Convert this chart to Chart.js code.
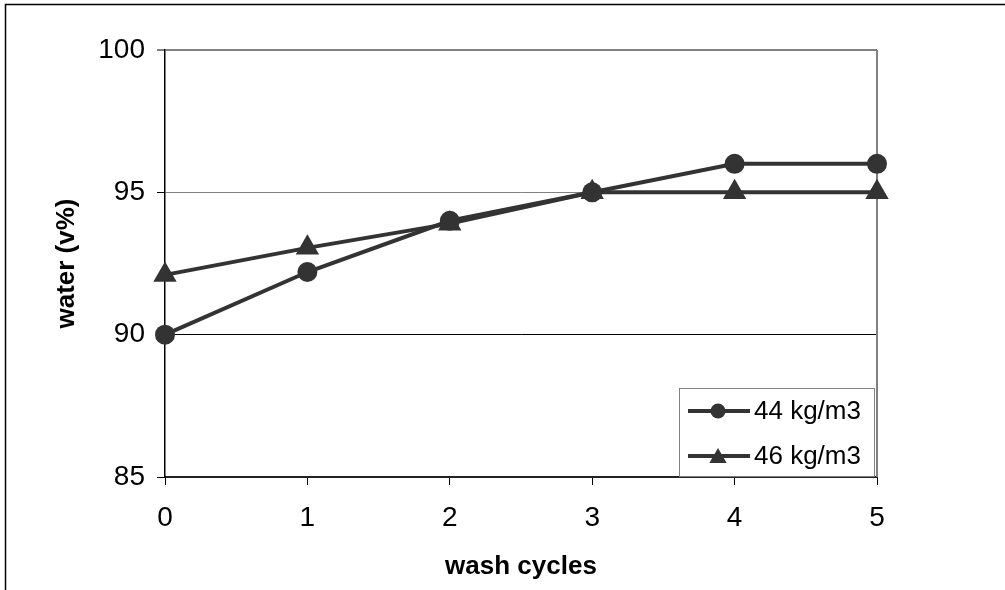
<!DOCTYPE html>
<html>
<head>
<meta charset="utf-8">
<script src="https://cdn.jsdelivr.net/npm/chart.js@4"></script>
<style>
  html, body { margin: 0; padding: 0; background: #fff; }
  #wrap { width: 1005px; height: 590px; position: relative; }
</style>
</head>
<body>
<div id="wrap"><canvas id="c" width="1005" height="590"></canvas></div>
<script>
const cycles = [0, 1, 2, 3, 4, 5];
const series44 = [90, 92.2, 94, 95, 96, 96];
const series46 = [92.1, 93.05, 93.9, 95, 95, 95];
const seriesNames = ['44 kg/m3', '46 kg/m3'];
const yTicks = [85, 90, 95, 100];

const FONT = "'Liberation Sans', Arial, sans-serif";
const INK = '#333333';

const framePlugin = {
  id: 'frame',
  beforeDraw(chart) {
    const ctx = chart.ctx;
    ctx.save();
    ctx.fillStyle = '#fff';
    ctx.fillRect(0, 0, chart.width, chart.height);
    ctx.strokeStyle = '#000';
    ctx.lineWidth = 1.5;
    ctx.beginPath();
    ctx.moveTo(1005, 4.5);
    ctx.lineTo(5.5, 4.5);
    ctx.lineTo(5.5, 590);
    ctx.stroke();
    ctx.restore();
  },
  beforeDatasetsDraw(chart) {
    const ctx = chart.ctx;
    const a = chart.chartArea;
    ctx.save();
    ctx.strokeStyle = '#808080';
    ctx.lineWidth = 2;
    ctx.beginPath();
    ctx.moveTo(a.right, a.top);
    ctx.lineTo(a.right, a.bottom);
    ctx.stroke();
    ctx.restore();
  },
  afterDatasetsDraw(chart) {
    const ctx = chart.ctx;
    ctx.save();
    const bx = 679, by = 388, bw = 195, bh = 88;
    ctx.fillStyle = '#fff';
    ctx.fillRect(bx, by, bw, bh);
    ctx.strokeStyle = '#808080';
    ctx.lineWidth = 1;
    ctx.strokeRect(bx + 0.5, by + 0.5, bw, bh);
    chart.data.datasets.forEach((ds, i) => {
      const y = 411 + i * 45;
      ctx.strokeStyle = INK;
      ctx.lineWidth = 4;
      ctx.beginPath();
      ctx.moveTo(688, y);
      ctx.lineTo(750, y);
      ctx.stroke();
      ctx.fillStyle = INK;
      Chart.helpers.drawPoint(ctx, {
        pointStyle: ds.pointStyle,
        radius: ds.pointStyle === 'triangle' ? 10 : 7.5,
        rotation: 0,
        borderWidth: 0
      }, 718, ds.pointStyle === 'triangle' ? y + 2 : y);
      ctx.fillStyle = '#000';
      ctx.font = '26px ' + FONT;
      ctx.textBaseline = 'middle';
      ctx.textAlign = 'left';
      ctx.fillText(ds.label, 754, y + 1);
    });
    ctx.restore();
  }
};

const toXY = (arr) => arr.map((v, i) => ({ x: cycles[i], y: v }));

new Chart(document.getElementById('c'), {
  type: 'line',
  data: {
    datasets: [
      {
        label: seriesNames[0],
        data: toXY(series44),
        borderColor: INK,
        backgroundColor: INK,
        borderWidth: 4,
        pointStyle: 'circle',
        pointRadius: 10,
        pointBorderWidth: 0,
        pointBackgroundColor: INK,
        tension: 0,
        clip: false
      },
      {
        label: seriesNames[1],
        data: toXY(series46),
        borderColor: INK,
        backgroundColor: INK,
        borderWidth: 4,
        pointStyle: 'triangle',
        pointRadius: 13.5,
        pointBorderWidth: 0,
        pointBackgroundColor: INK,
        tension: 0,
        clip: false
      }
    ]
  },
  options: {
    responsive: false,
    animation: false,
    events: [],
    layout: { padding: { left: 0, top: 50, right: 128, bottom: 0 } },
    plugins: { legend: { display: false }, tooltip: { enabled: false } },
    scales: {
      x: {
        type: 'linear',
        min: 0,
        max: 5,
        afterFit(s) { s.height = 113; },
        ticks: {
          stepSize: 1,
          color: '#000',
          font: { family: FONT, size: 28 },
          padding: 16
        },
        grid: {
          drawOnChartArea: false,
          drawTicks: true,
          tickLength: 8,
          tickColor: '#000',
          tickWidth: 1
        },
        border: { color: '#222', width: 2 },
        title: {
          display: true,
          text: 'wash cycles',
          color: '#000',
          font: { family: FONT, size: 26, weight: 'bold' },
          padding: { top: 0, bottom: 8 }
        }
      },
      y: {
        type: 'linear',
        min: 85,
        max: 100,
        afterFit(s) { s.width = 165; },
        afterBuildTicks(s) { s.ticks = yTicks.map(v => ({ value: v })); },
        ticks: {
          color: '#000',
          font: { family: FONT, size: 28 },
          padding: 12
        },
        grid: {
          color: (c) => (c.tick && c.tick.value === 90) ? '#000' : '#808080',
          lineWidth: (c) => (c.tick && c.tick.value === 100) ? 2 : 1,
          drawTicks: true,
          tickLength: 8,
          tickColor: '#000',
          tickWidth: 1
        },
        border: { color: '#000', width: 1.5 },
        title: {
          display: true,
          text: 'water (v%)',
          color: '#000',
          font: { family: FONT, size: 26, weight: 'bold' },
          padding: { top: 51, bottom: 0 }
        }
      }
    }
  },
  plugins: [framePlugin]
});
</script>
</body>
</html>
